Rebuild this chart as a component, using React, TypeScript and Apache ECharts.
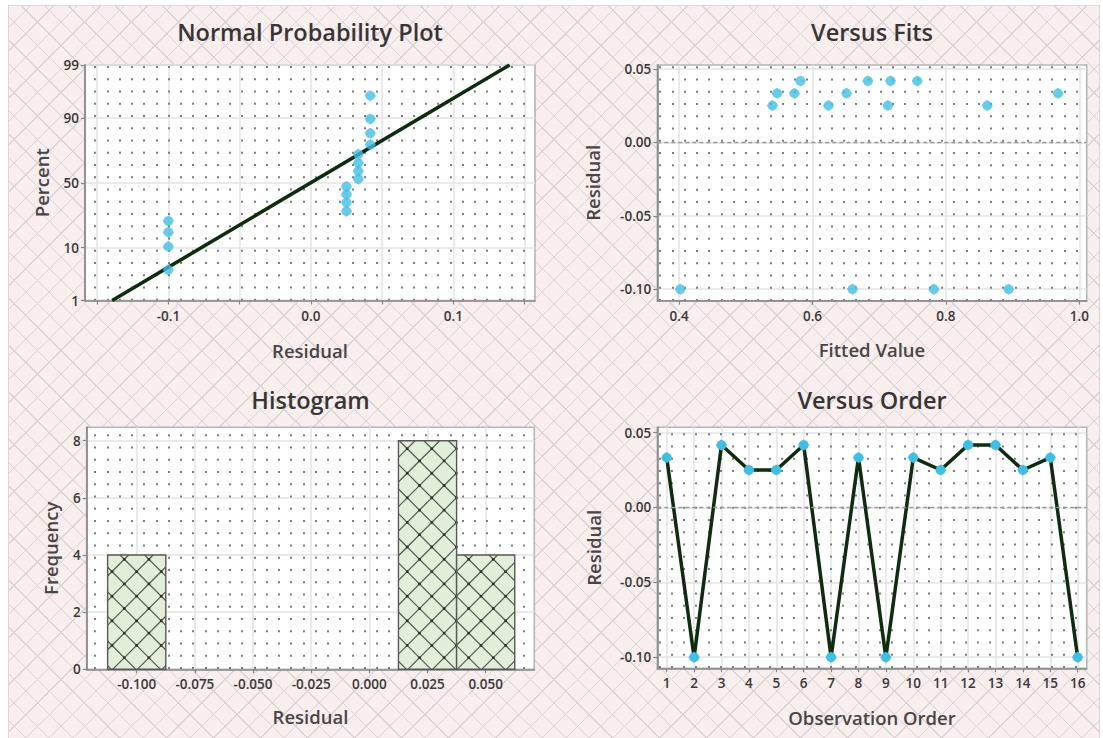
import { useEffect, useRef } from "react";
import * as echarts from "echarts";

// ---- Data -------------------------------------------------------------
const observationOrder = [1, 2, 3, 4, 5, 6, 7, 8, 9, 10, 11, 12, 13, 14, 15, 16];
const residuals = [
  0.0333, -0.1, 0.0417, 0.025, 0.025, 0.0417, -0.1, 0.0333,
  -0.1, 0.0333, 0.025, 0.0417, 0.0417, 0.025, 0.0333, -0.1,
];
const fittedValues = [
  0.547, 0.402, 0.582, 0.54, 0.624, 0.683, 0.66, 0.573,
  0.782, 0.651, 0.713, 0.717, 0.757, 0.862, 0.968, 0.894,
];

const histBinMids = [-0.1, 0.025, 0.05];
const histCounts = [4, 8, 4];
const histBinWidth = 0.025;

// ---- Tick values ------------------------------------------------------
const percentTicks = [1, 10, 50, 90, 99];
const nppResidualTicks = [-0.15, -0.1, -0.05, 0, 0.05, 0.1, 0.15];
const nppResidualLabels = [-0.1, 0, 0.1];
const fitTicks = [0.4, 0.6, 0.8, 1.0];
const residualTicks = [-0.1, -0.05, 0, 0.05];
const histResidualTicks = [-0.1, -0.075, -0.05, -0.025, 0, 0.025, 0.05];
const frequencyTicks = [0, 2, 4, 6, 8];

// ---- Helpers ----------------------------------------------------------
// Inverse standard normal CDF (Acklam's rational approximation)
function normInv(p: number): number {
  const a = [-39.69683028665376, 220.9460984245205, -275.9285104469687, 138.357751867269, -30.66479806614716, 2.506628277459239];
  const b = [-54.47609879822406, 161.5858368580409, -155.6989798598866, 66.80131188771972, -13.28068155288572];
  const c = [-0.007784894002430293, -0.3223964580411365, -2.400758277161838, -2.549732539343734, 4.374664141464968, 2.938163982698783];
  const d = [0.007784695709041462, 0.3224671290700398, 2.445134137142996, 3.754408661907416];
  const pl = 0.02425;
  if (p < pl) {
    const q = Math.sqrt(-2 * Math.log(p));
    return (((((c[0] * q + c[1]) * q + c[2]) * q + c[3]) * q + c[4]) * q + c[5]) /
      ((((d[0] * q + d[1]) * q + d[2]) * q + d[3]) * q + 1);
  }
  if (p <= 1 - pl) {
    const q = p - 0.5;
    const r = q * q;
    return ((((((a[0] * r + a[1]) * r + a[2]) * r + a[3]) * r + a[4]) * r + a[5]) * q) /
      (((((b[0] * r + b[1]) * r + b[2]) * r + b[3]) * r + b[4]) * r + 1);
  }
  const q = Math.sqrt(-2 * Math.log(1 - p));
  return -(((((c[0] * q + c[1]) * q + c[2]) * q + c[3]) * q + c[4]) * q + c[5]) /
    ((((d[0] * q + d[1]) * q + d[2]) * q + d[3]) * q + 1);
}

const n = residuals.length;
const sortedResiduals = [...residuals].sort((x, y) => x - y);
// Median-rank plotting positions on the normal score scale
const nppPoints = sortedResiduals.map((r, i) => [r, normInv((i + 1 - 0.3) / (n + 0.4))]);
const mean = residuals.reduce((s, v) => s + v, 0) / n;
const sd = Math.sqrt(residuals.reduce((s, v) => s + (v - mean) ** 2, 0) / (n - 1));
const zLo = normInv(percentTicks[0] / 100);
const zHi = normInv(percentTicks[percentTicks.length - 1] / 100);
const nppFitLine = [[mean + sd * zLo, zLo], [mean + sd * zHi, zHi]];

// ---- Look -------------------------------------------------------------
const FONT = '"Open Sans", "Noto Sans", sans-serif';
const POINT = "#3fbfe3";
const LINE = "#0e2c0e";
const AXIS = "#858585";
const GRIDLINE = "#e3e3e3";
const DOT = 12.25;
const MARKER = "path://M5,0 L8.3,1.9 L10,5 L8.3,8.1 L5,10 L1.7,8.1 L0,5 L1.7,1.9 Z";
const MARKER_SIZE = 11;

const PANELS = [
  { left: 85, top: 65, width: 450, height: 235.5, dx: 10, dy: 0.9 },
  { left: 657.3, top: 65, width: 429.4, height: 235.7, dx: 2.7, dy: 1.2 },
  { left: 86.7, top: 427.3, width: 447.6, height: 242, dx: 8.3, dy: 6.9 },
  { left: 657.3, top: 427.3, width: 429.4, height: 241, dx: 2, dy: 5.9 },
];

const mainGrid = (p: any) => ({
  left: p.left, top: p.top, width: p.width, height: p.height,
  show: true, backgroundColor: "#ffffff", borderColor: "#b5b5b5", borderWidth: 1.6,
  outerBoundsMode: "none", containLabel: false,
});
const dotGrid = (p: any) => ({
  left: p.left + p.dx, top: p.top + p.dy, width: p.width - p.dx, height: p.height - p.dy,
  show: false, outerBoundsMode: "none", containLabel: false,
});

const fmt = (digits: number) => (v: number) => v.toFixed(digits);

function valueAxis(gridIndex: number, min: number, max: number, ticks: number[], labels: number[], formatter: any, horizontal: boolean) {
  return {
    type: "value",
    gridIndex,
    min,
    max,
    axisLine: { show: true, onZero: false, lineStyle: { color: AXIS, width: 1.6 } },
    axisTick: { show: true, length: 4, inside: false, customValues: ticks, lineStyle: { color: AXIS, width: 1.2 } },
    axisLabel: {
      show: true,
      customValues: labels,
      formatter,
      color: "#383838",
      fontSize: 13.5,
      fontWeight: 600,
      fontFamily: FONT,
      margin: horizontal ? 8 : 6,
      hideOverlap: false,
    },
    splitLine: { show: true, lineStyle: { color: GRIDLINE, width: 1.5 } },
  };
}

function dotX(gridIndex: number, p: any) {
  return {
    type: "value", gridIndex, min: 0, max: p.width - p.dx, interval: DOT,
    axisLine: { show: false }, axisTick: { show: false }, axisLabel: { show: false },
    splitLine: { show: true, showMaxLine: false, lineStyle: { color: "#7d7d7d", width: 2, type: [2, DOT - 2] } },
  };
}
function dotY(gridIndex: number) {
  return {
    type: "value", gridIndex, min: 0, max: 1,
    axisLine: { show: false }, axisTick: { show: false }, axisLabel: { show: false }, splitLine: { show: false },
  };
}

const zeroRefLine = {
  silent: true,
  symbol: "none",
  label: { show: false },
  lineStyle: { color: "#999999", type: [4, 3], width: 1.3 },
  data: [{ yAxis: 0 }],
};

// Histogram bar: light green fill, diagonal cross-hatch, dark outline
const HATCH = 24.6;
const hatchAnchor = [124.3, 559.3];
const hatchA = (((hatchAnchor[0] - hatchAnchor[1]) % HATCH) + HATCH) % HATCH;
const hatchB = (((hatchAnchor[0] + hatchAnchor[1]) % HATCH) + HATCH) % HATCH;

function renderHistBar(_params: any, api: any) {
  const mid = api.value(0);
  const count = api.value(1);
  const tl = api.coord([mid - histBinWidth / 2, count]);
  const br = api.coord([mid + histBinWidth / 2, 0]);
  const x0 = tl[0], y0 = tl[1], x1 = br[0], y1 = br[1];
  const hatchStyle = { stroke: "#505850", lineWidth: 1.2 };
  const children: any[] = [
    { type: "rect", shape: { x: x0, y: y0, width: x1 - x0, height: y1 - y0 }, style: { fill: "#e2efd8" } },
  ];
  const aVals: number[] = [];
  const bVals: number[] = [];
  // lines x - y = c
  for (let c = Math.ceil((x0 - y1 - hatchA) / HATCH) * HATCH + hatchA; c <= x1 - y0; c += HATCH) {
    aVals.push(c);
    const xa = Math.max(x0, y0 + c), xb = Math.min(x1, y1 + c);
    if (xb > xa) children.push({ type: "line", shape: { x1: xa, y1: xa - c, x2: xb, y2: xb - c }, style: hatchStyle });
  }
  // lines x + y = k
  for (let k = Math.ceil((x0 + y0 - hatchB) / HATCH) * HATCH + hatchB; k <= x1 + y1; k += HATCH) {
    bVals.push(k);
    const xa = Math.max(x0, k - y1), xb = Math.min(x1, k - y0);
    if (xb > xa) children.push({ type: "line", shape: { x1: xa, y1: k - xa, x2: xb, y2: k - xb }, style: hatchStyle });
  }
  for (const c of aVals) {
    for (const k of bVals) {
      const cx = (c + k) / 2, cy = (k - c) / 2;
      if (cx >= x0 && cx <= x1 && cy >= y0 && cy <= y1) {
        children.push({ type: "circle", shape: { cx, cy, r: 1.4 }, style: { fill: "#2e2e2e" } });
      }
    }
  }
  children.push({
    type: "rect",
    shape: { x: x0, y: y0, width: x1 - x0, height: y1 - y0 },
    style: { fill: "none", stroke: "#585858", lineWidth: 1.4 },
  });
  return { type: "group", children };
}

// ---- Titles -------------------------------------------------------------
const center = (p: any) => p.left + p.width / 2;
const middle = (p: any) => p.top + p.height / 2;

const heading = (text: string, x: number, y: number) => ({
  type: "text", x, y, silent: true,
  style: { text, font: `600 23.5px ${FONT}`, fill: "#363636", align: "center", verticalAlign: "middle", textAlign: "center", textVerticalAlign: "middle" },
});
const axisTitle = (text: string, x: number, y: number, vertical = false) => ({
  type: "text", x, y, silent: true, rotation: vertical ? Math.PI / 2 : 0,
  style: { text, font: `600 18.5px ${FONT}`, fill: "#464646", align: "center", verticalAlign: "middle", textAlign: "center", textVerticalAlign: "middle" },
});

function buildOption() {
  const [pN, pF, pH, pO] = PANELS;
  const zTicks = percentTicks.map((p) => normInv(p / 100));
  const percentLabel = (v: number) => {
    const i = zTicks.findIndex((z) => Math.abs(z - v) < 1e-6);
    return i >= 0 ? String(percentTicks[i]) : "";
  };
  return {
    animation: false,
    backgroundColor: "transparent",
    textStyle: { fontFamily: FONT },
    grid: [mainGrid(pN), mainGrid(pF), mainGrid(pH), mainGrid(pO), dotGrid(pN), dotGrid(pF), dotGrid(pH), dotGrid(pO)],
    xAxis: [
      valueAxis(0, -0.1585, 0.1573, nppResidualTicks, nppResidualLabels, fmt(1), true),
      valueAxis(1, 0.3674, 1.011, fitTicks, fitTicks, fmt(1), true),
      valueAxis(2, -0.1215, 0.0709, histResidualTicks, histResidualTicks, fmt(3), true),
      valueAxis(3, 0.657, 16.33, observationOrder, observationOrder, fmt(0), true),
      dotX(4, pN), dotX(5, pF), dotX(6, pH), dotX(7, pO),
    ],
    yAxis: [
      valueAxis(0, zLo, zHi, zTicks, zTicks, percentLabel, false),
      valueAxis(1, -0.1078, 0.0526, residualTicks, residualTicks, fmt(2), false),
      valueAxis(2, 0, 8.47, frequencyTicks, frequencyTicks, fmt(0), false),
      valueAxis(3, -0.1074, 0.0535, residualTicks, residualTicks, fmt(2), false),
      dotY(4), dotY(5), dotY(6), dotY(7),
    ],
    series: [
      {
        type: "line", xAxisIndex: 0, yAxisIndex: 0, data: nppFitLine, showSymbol: false, z: 3,
        lineStyle: { color: LINE, width: 3.6 }, silent: true,
      },
      {
        type: "scatter", xAxisIndex: 0, yAxisIndex: 0, data: nppPoints, z: 4,
        symbol: MARKER, symbolSize: MARKER_SIZE, itemStyle: { color: POINT },
      },
      {
        type: "scatter", xAxisIndex: 1, yAxisIndex: 1, z: 4,
        data: fittedValues.map((f, i) => [f, residuals[i]]),
        symbol: MARKER, symbolSize: MARKER_SIZE, itemStyle: { color: POINT },
        markLine: zeroRefLine,
      },
      {
        type: "custom", xAxisIndex: 2, yAxisIndex: 2, z: 3,
        data: histBinMids.map((m, i) => [m, histCounts[i]]),
        encode: { x: 0, y: 1 },
        renderItem: renderHistBar,
      },
      {
        type: "line", xAxisIndex: 3, yAxisIndex: 3, z: 4, clip: false,
        data: observationOrder.map((o, i) => [o, residuals[i]]),
        symbol: MARKER, symbolSize: MARKER_SIZE, showSymbol: true,
        itemStyle: { color: POINT },
        lineStyle: { color: LINE, width: 3.5, join: "miter", miterLimit: 10, cap: "butt" },
        markLine: zeroRefLine,
      },
    ],
    graphic: [
      heading("Normal Probability Plot", center(pN), 32),
      heading("Versus Fits", center(pF), 32),
      heading("Histogram", center(pH), 400),
      heading("Versus Order", center(pO), 400),
      axisTitle("Residual", center(pN), 350),
      axisTitle("Percent", 41, middle(pN), true),
      axisTitle("Fitted Value", center(pF), 349),
      axisTitle("Residual", 592, middle(pF), true),
      axisTitle("Residual", center(pH), 716),
      axisTitle("Frequency", 50, middle(pH), true),
      axisTitle("Observation Order", center(pO), 717.5),
      axisTitle("Residual", 593, middle(pO), true),
    ],
  };
}

const crossHatch =
  "repeating-linear-gradient(45deg, rgba(0,0,0,0) 0px, rgba(0,0,0,0) 15.6px, #dbd4d4 15.6px, #dbd4d4 16.6px)," +
  "repeating-linear-gradient(-45deg, rgba(0,0,0,0) 0px, rgba(0,0,0,0) 15.6px, #dbd4d4 15.6px, #dbd4d4 16.6px)";

export default function App() {
  const ref = useRef<HTMLDivElement>(null);
  useEffect(() => {
    if (!ref.current) return;
    const chart = echarts.init(ref.current, undefined, { renderer: "svg" });
    chart.setOption(buildOption() as any);
    return () => chart.dispose();
  }, []);
  return (
    <div style={{ position: "fixed", left: 0, top: 0, width: 1103, height: 738, background: "#ffffff", overflow: "hidden" }}>
      <div
        style={{
          position: "absolute", left: 8, top: 5, width: 1092, height: 740, boxSizing: "border-box",
          border: "1px solid #d8d8d8", backgroundColor: "#f9eeee", backgroundImage: crossHatch,
        }}
      />
      <div ref={ref} style={{ position: "absolute", left: 0, top: 0, width: 1103, height: 738 }} />
    </div>
  );
}
